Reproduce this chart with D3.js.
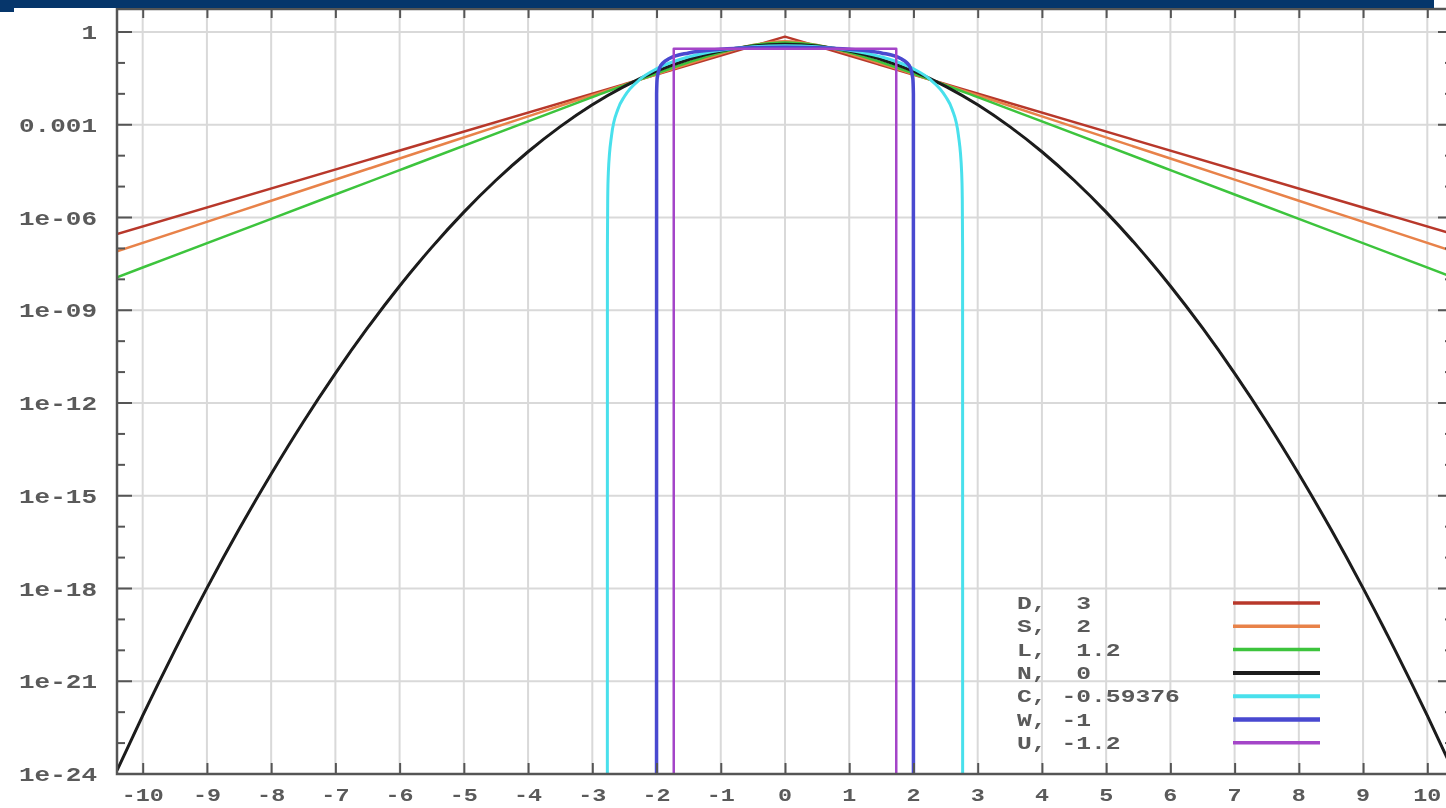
<!DOCTYPE html>
<html>
<head>
<meta charset="utf-8">
<script src="https://cdn.jsdelivr.net/npm/d3@7"></script>
<style>
  body { margin: 0; background: #fff; overflow: hidden; }
  text { font-family: "Liberation Mono", "DejaVu Sans Mono", monospace; fill: #5a5a5a; font-weight: bold; }
</style>
</head>
<body>
<div id="chart"></div>
<script>
// tick labels
const xTicks = [-10, -9, -8, -7, -6, -5, -4, -3, -2, -1, 0, 1, 2, 3, 4, 5, 6, 7, 8, 9, 10];
const yTickVals = [1, 1e-3, 1e-6, 1e-9, 1e-12, 1e-15, 1e-18, 1e-21, 1e-24];
const yTickLabels = ["1", "0.001", "1e-06", "1e-09", "1e-12", "1e-15", "1e-18", "1e-21", "1e-24"];

// legend
const legendNames = ["D", "S", "L", "N", "C", "W", "U"];
const legendKurtosis = ["3", "2", "1.2", "0", "-0.59376", "-1", "-1.2"];
const legendColors = ["#b8382c", "#e8824a", "#3cc43c", "#1a1a1a", "#48e0ec", "#4848d0", "#a444c8"];
const lineWidths = [2.5, 2.5, 2.5, 3, 3, 3.5, 2.5];

// series, [x, density]
const seriesD = [[-10.4, 2.9e-7], [0, 0.707], [10.4, 2.9e-7]];
const seriesS = [
  [-10.4, 8.05e-8], [-8, 3.49e-6], [-6, 8.07e-5], [-4, 1.867e-3], [-3, 8.98e-3], [-2, 4.31e-2],
  [-1.5, 9.39e-2], [-1, 0.199], [-0.5, 0.3775], [0, 0.5], [0.5, 0.3775], [1, 0.199], [1.5, 9.39e-2],
  [2, 4.31e-2], [3, 8.98e-3], [4, 1.867e-3], [6, 8.07e-5], [8, 3.49e-6], [10.4, 8.05e-8]
];
const seriesL = [
  [-10.4, 1.165e-8], [-8, 9.05e-7], [-6, 3.41e-5], [-4, 1.279e-3], [-3, 7.8e-3], [-2, 4.56e-2],
  [-1.5, 0.1049], [-1, 0.2185], [-0.5, 0.3717], [0, 0.4535], [0.5, 0.3717], [1, 0.2185], [1.5, 0.1049],
  [2, 4.56e-2], [3, 7.8e-3], [4, 1.279e-3], [6, 3.41e-5], [8, 9.05e-7], [10.4, 1.165e-8]
];
const seriesN = [
  [-10.4, 1.3e-24], [-10, 7.7e-23], [-9.5, 1.0e-20], [-9, 1.03e-18], [-8.5, 8.2e-17], [-8, 5.05e-15],
  [-7.5, 2.44e-13], [-7, 9.1e-12], [-6.5, 2.67e-10], [-6, 6.1e-9], [-5.5, 1.08e-7], [-5, 1.49e-6],
  [-4.5, 1.6e-5], [-4, 1.34e-4], [-3.5, 8.7e-4], [-3, 4.43e-3], [-2.5, 1.75e-2], [-2, 5.4e-2],
  [-1.5, 0.1295], [-1, 0.242], [-0.5, 0.352], [0, 0.399], [0.5, 0.352], [1, 0.242], [1.5, 0.1295],
  [2, 5.4e-2], [2.5, 1.75e-2], [3, 4.43e-3], [3.5, 8.7e-4], [4, 1.34e-4], [4.5, 1.6e-5], [5, 1.49e-6],
  [5.5, 1.08e-7], [6, 6.1e-9], [6.5, 2.67e-10], [7, 9.1e-12], [7.5, 2.44e-13], [8, 5.05e-15],
  [8.5, 8.2e-17], [9, 1.03e-18], [9.5, 1.0e-20], [10, 7.7e-23], [10.4, 1.3e-24]
];
const seriesC = [
  [-2.766, 1e-30], [-2.765, 1.1e-7], [-2.76, 4.2e-6], [-2.75, 2.96e-5], [-2.7, 4.54e-4], [-2.6, 3.24e-3],
  [-2.5, 8.24e-3], [-2.25, 3.03e-2], [-2, 6.43e-2], [-1.5, 0.1568], [-1, 0.257], [-0.5, 0.3332], [0, 0.3615],
  [0.5, 0.3332], [1, 0.257], [1.5, 0.1568], [2, 6.43e-2], [2.25, 3.03e-2], [2.5, 8.24e-3], [2.6, 3.24e-3],
  [2.7, 4.54e-4], [2.75, 2.96e-5], [2.76, 4.2e-6], [2.765, 1.1e-7], [2.766, 1e-30]
];
const seriesW = [
  [-2, 1e-30], [-1.999, 1.006e-2], [-1.99, 3.18e-2], [-1.95, 7.07e-2], [-1.9, 9.94e-2], [-1.8, 0.1387],
  [-1.5, 0.2105], [-1, 0.2757], [-0.5, 0.3082], [0, 0.3183], [0.5, 0.3082], [1, 0.2757], [1.5, 0.2105],
  [1.8, 0.1387], [1.9, 9.94e-2], [1.95, 7.07e-2], [1.99, 3.18e-2], [1.999, 1.006e-2], [2, 1e-30]
];
const seriesU = [[-1.732, 1e-30], [-1.732, 0.2887], [1.732, 0.2887], [1.732, 1e-30]];

const allSeries = [seriesD, seriesS, seriesL, seriesN, seriesC, seriesW, seriesU];
const smooth = [false, true, true, true, true, true, false];

const W = 1446, H = 808;
const plotTop = 9, plotBottom = 774, plotLeft = 117, plotRight = 1453;

const svg = d3.select("#chart").append("svg")
  .attr("width", W)
  .attr("height", H);

svg.append("defs").append("clipPath").attr("id", "plotClip")
  .append("rect")
  .attr("x", plotLeft).attr("y", plotTop)
  .attr("width", plotRight - plotLeft).attr("height", plotBottom - plotTop);

const blur = svg.select("defs").append("filter").attr("id", "soft");
blur.append("feGaussianBlur").attr("stdDeviation", 0.6);

const g = svg.append("g").attr("filter", "url(#soft)");

const x = d3.scaleLinear().domain([-10.4, 10.4]).range([plotLeft, plotRight]);
const y = d3.scaleLog().domain([1e-24, 1]).range([plotBottom, 32]);

// grid
g.append("g").selectAll("line").data(xTicks).join("line")
  .attr("x1", d => x(d)).attr("x2", d => x(d))
  .attr("y1", plotTop).attr("y2", plotBottom)
  .attr("stroke", "#d9d9d9").attr("stroke-width", 2);

g.append("g").selectAll("line").data(yTickVals).join("line")
  .attr("x1", plotLeft).attr("x2", plotRight)
  .attr("y1", d => y(d)).attr("y2", d => y(d))
  .attr("stroke", "#d9d9d9").attr("stroke-width", 2);

// curves
const curves = g.append("g").attr("clip-path", "url(#plotClip)");
allSeries.forEach((s, i) => {
  const line = d3.line()
    .x(d => x(d[0]))
    .y(d => y(d[1]))
    .curve(smooth[i] ? d3.curveMonotoneX : d3.curveLinear);
  curves.append("path")
    .datum(s)
    .attr("d", line)
    .attr("fill", "none")
    .attr("stroke", legendColors[i])
    .attr("stroke-width", lineWidths[i])
    .attr("stroke-linejoin", "round");
});

// frame
g.append("rect")
  .attr("x", plotLeft).attr("y", plotTop)
  .attr("width", plotRight - plotLeft).attr("height", plotBottom - plotTop)
  .attr("fill", "none").attr("stroke", "#555").attr("stroke-width", 2.5);

// x ticks (inward, top and bottom)
const xAxisB = d3.axisBottom(x).tickValues(xTicks).tickSize(-11).tickPadding(0).tickFormat("");
g.append("g").attr("transform", `translate(0,${plotBottom})`).call(xAxisB)
  .call(a => a.select(".domain").remove())
  .selectAll("line").attr("stroke", "#555").attr("stroke-width", 2);
const xAxisT = d3.axisTop(x).tickValues(xTicks).tickSize(-9).tickFormat("");
g.append("g").attr("transform", `translate(0,${plotTop})`).call(xAxisT)
  .call(a => a.select(".domain").remove())
  .selectAll("line").attr("stroke", "#555").attr("stroke-width", 2);

// y ticks: major + minor decades, both sides
const decades = d3.range(0, 25).map(k => Math.pow(10, -k));
[[plotLeft, 1], [plotRight, -1]].forEach(([x0, dir]) => {
  g.append("g").selectAll("line").data(decades).join("line")
    .attr("x1", x0)
    .attr("x2", d => x0 + dir * (yTickVals.includes(d) ? 15 : 8))
    .attr("y1", d => y(d)).attr("y2", d => y(d))
    .attr("stroke", "#555").attr("stroke-width", 2);
});

// tick labels
const sx = 1.3;
g.append("g").selectAll("text").data(yTickVals).join("text")
  .attr("transform", d => `translate(97,${y(d) + 7}) scale(${sx},1)`)
  .attr("text-anchor", "end")
  .attr("font-size", 20)
  .text((d, i) => yTickLabels[i]);

g.append("g").selectAll("text").data(xTicks).join("text")
  .attr("transform", d => `translate(${x(d)},${801}) scale(${sx},1)`)
  .attr("text-anchor", "middle")
  .attr("font-size", 18)
  .text(d => d);

// legend
const legend = g.append("g");
legendNames.forEach((n, i) => {
  const ly = 603 + i * 23.3;
  const label = n + ", " + (legendKurtosis[i].startsWith("-") ? "" : " ") + legendKurtosis[i];
  legend.append("text")
    .attr("transform", `translate(1017,${ly + 6}) scale(${sx},1)`)
    .attr("font-size", 19)
    .style("white-space", "pre")
    .text(label);
  legend.append("line")
    .attr("x1", 1233).attr("x2", 1320)
    .attr("y1", ly).attr("y2", ly)
    .attr("stroke", legendColors[i])
    .attr("stroke-width", lineWidths[i] + 1);
});

// header strip over the top
svg.append("rect").attr("x", 0).attr("y", 0).attr("width", 1434).attr("height", 8).attr("fill", "#06366b");
svg.append("rect").attr("x", 0).attr("y", 8).attr("width", 14).attr("height", 4).attr("fill", "#06366b");
</script>
</body>
</html>
